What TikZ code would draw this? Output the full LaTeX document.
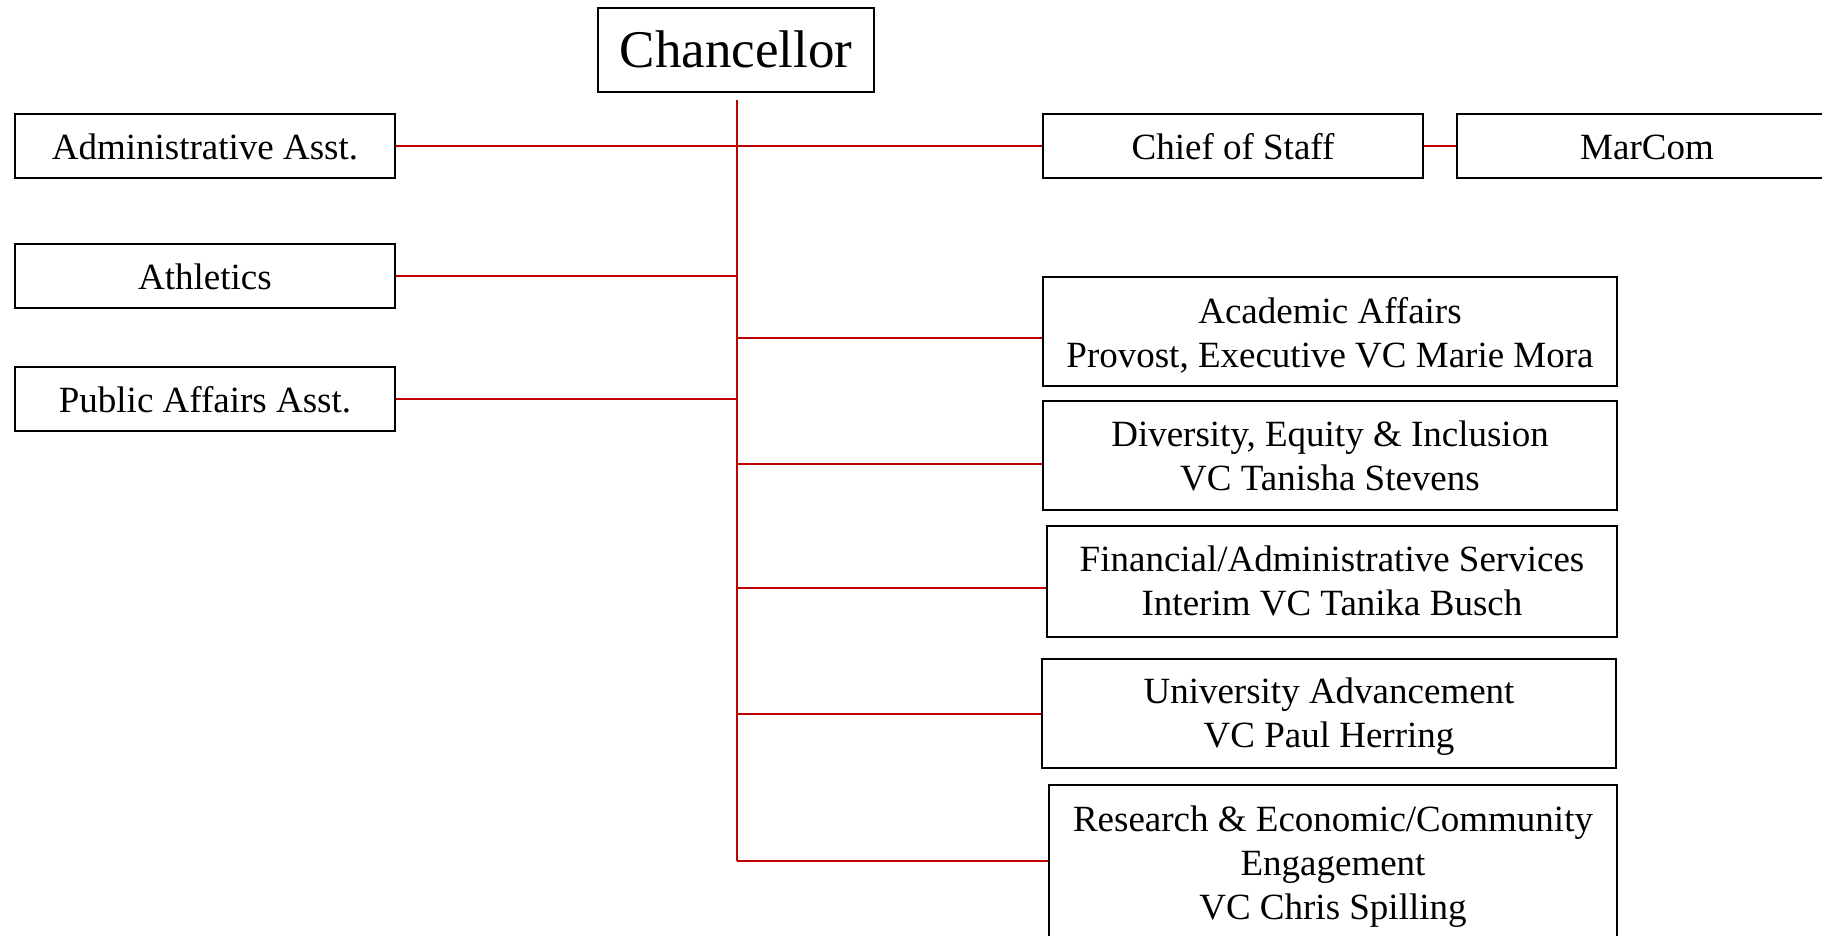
\documentclass[tikz,border=0pt]{standalone}
\usepackage{fontspec}
\setmainfont{Liberation Serif}
\definecolor{linkred}{RGB}{192,0,0}
\newcommand\boxtext[2]{\raisebox{-#1}[\height][\depth]{\begin{tabular}{@{}c@{}}#2\end{tabular}}}
\begin{document}
\begin{tikzpicture}[x=0.5pt,y=-0.5pt,
  orgbox/.style={draw=black, line width=0.8pt, fill=white, inner sep=0pt, anchor=center,
    font=\fontsize{18.5}{22}\selectfont},
  conn/.style={draw=linkred, line width=1.2pt}]
\useasboundingbox (0,0) rectangle (1822,936);
\clip (0,0) rectangle (1822,936);

% trunk
\coordinate (ttop) at (737,100);
\coordinate (tbot) at (737,861);
\coordinate (tacad) at (737,338);
\coordinate (tdiv) at (737,464);
\coordinate (tfin) at (737,588);
\coordinate (tuniv) at (737,714);

\node[orgbox, minimum width=138pt, minimum height=42pt, font=\fontsize{26.5}{32}\selectfont]
  (chan) at (736,50) {\boxtext{2.6pt}{Chancellor}};

\node[orgbox, minimum width=190pt, minimum height=32pt] (admin) at (205,146) {\boxtext{2.5pt}{Administrative Asst.}};
\node[orgbox, minimum width=190pt, minimum height=32pt] (ath) at (205,276) {\boxtext{2.3pt}{Athletics}};
\node[orgbox, minimum width=190pt, minimum height=32pt] (pub) at (205,399) {\boxtext{2.4pt}{Public Affairs Asst.}};

\node[orgbox, minimum width=190pt, minimum height=32pt] (chief) at (1233,146) {\boxtext{2.5pt}{Chief of Staff}};
\node[orgbox, minimum width=190pt, minimum height=32pt] (marcom) at (1647,146) {\boxtext{2.5pt}{MarCom}};

\node[orgbox, minimum width=287pt, minimum height=54.5pt] (acad) at (1330,331.5)
  {\boxtext{2.5pt}{Academic Affairs\\Provost, Executive VC Marie Mora}};
\node[orgbox, minimum width=287pt, minimum height=54.5pt] (div) at (1330,455.5)
  {\boxtext{2pt}{Diversity, Equity \& Inclusion\\VC Tanisha Stevens}};
\node[orgbox, minimum width=285pt, minimum height=55.5pt] (fin) at (1332,581.5)
  {\boxtext{1.5pt}{Financial/Administrative Services\\Interim VC Tanika Busch}};
\node[orgbox, minimum width=287pt, minimum height=54.5pt] (univ) at (1329,713.5)
  {\boxtext{1.5pt}{University Advancement\\VC Paul Herring}};
\node[orgbox, anchor=north] (res) at (1333,784)
  {\begin{minipage}[t][110pt][t]{284pt}\centering\rule{0pt}{23.5pt}Research \& Economic/Community\\Engagement\\VC Chris Spilling\end{minipage}};

% connectors
\draw[conn] (ttop) -- (tbot);
\draw[conn] (admin.east) -- (chief.west);
\draw[conn] (chief.east) -- (marcom.west);
\draw[conn] (ath.east) -- (ath.east -| ttop);
\draw[conn] (pub.east) -- (pub.east -| ttop);
\draw[conn] (tacad) -- (tacad -| acad.west);
\draw[conn] (tdiv) -- (tdiv -| div.west);
\draw[conn] (tfin) -- (tfin -| fin.west);
\draw[conn] (tuniv) -- (tuniv -| univ.west);
\draw[conn] (tbot) -- (tbot -| res.west);
\end{tikzpicture}
\end{document}
